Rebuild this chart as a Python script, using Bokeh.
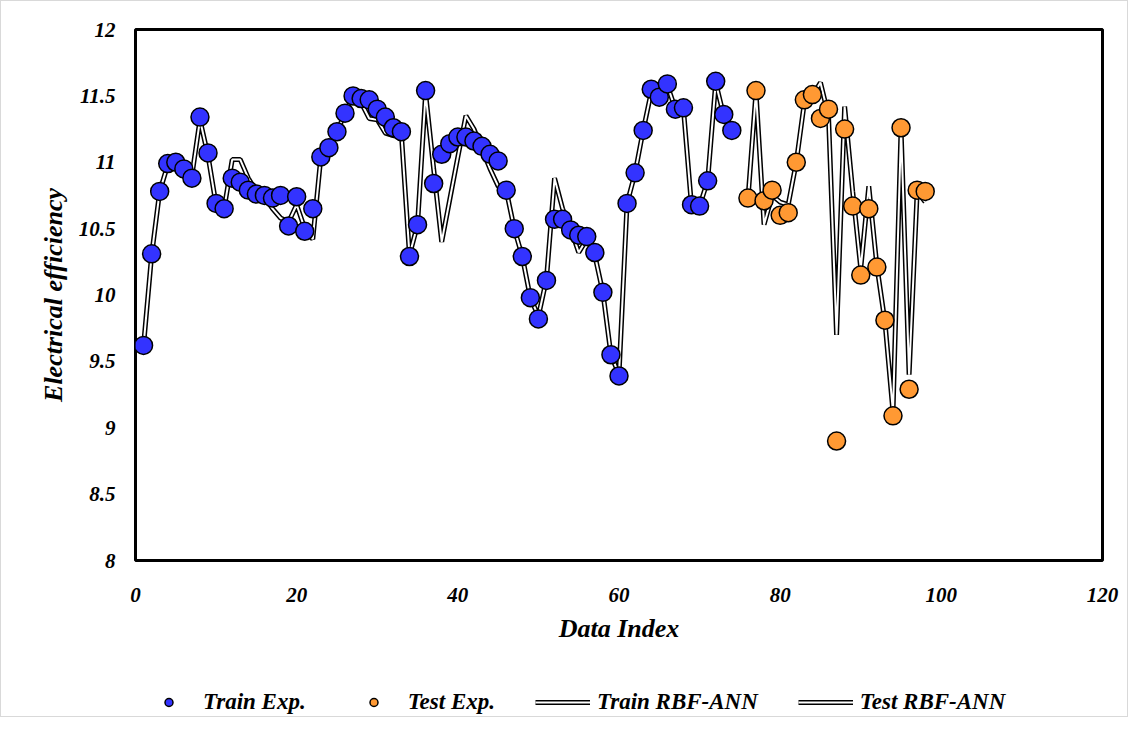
from bokeh.plotting import figure
from bokeh.models import Legend, LegendItem, FixedTicker, Range1d
from bokeh.layouts import column
from bokeh.embed import file_html
from bokeh.resources import INLINE

# ---- data ----
train_idx = list(range(1, 75))
train_exp = [9.62, 10.31, 10.78, 10.99, 11.00, 10.95, 10.88, 11.34, 11.07, 10.69,
             10.65, 10.88, 10.85, 10.79, 10.76, 10.75, 10.73, 10.75, 10.52, 10.74,
             10.48, 10.65, 11.04, 11.11, 11.23, 11.37, 11.50, 11.48, 11.47, 11.40,
             11.34, 11.26, 11.23, 10.29, 10.53, 11.54, 10.84, 11.06, 11.14, 11.19,
             11.19, 11.16, 11.12, 11.06, 11.01, 10.79, 10.50, 10.29, 9.98, 9.82,
             10.11, 10.57, 10.57, 10.49, 10.45, 10.44, 10.32, 10.02, 9.55, 9.39,
             10.69, 10.92, 11.24, 11.55, 11.49, 11.59, 11.40, 11.41, 10.68, 10.67,
             10.86, 11.61, 11.36, 11.24]
train_ann = [9.62, 10.30, 10.78, 10.98, 11.00, 10.95, 10.90, 11.32, 11.05, 10.68,
             10.65, 11.02, 11.02, 10.88, 10.78, 10.74, 10.65, 10.58, 10.55, 10.68,
             10.50, 10.42, 11.04, 11.11, 11.23, 11.37, 11.50, 11.45, 11.33, 11.32,
             11.22, 11.20, 11.21, 10.30, 10.53, 11.52, 10.95, 10.40, 10.72, 11.04,
             11.35, 11.25, 11.10, 10.95, 10.82, 10.79, 10.50, 10.29, 9.98, 9.84,
             10.12, 10.88, 10.65, 10.50, 10.32, 10.42, 10.30, 10.02, 9.55, 9.40,
             10.69, 10.92, 11.24, 11.53, 11.50, 11.58, 11.40, 11.40, 10.67, 10.67,
             10.86, 11.60, 11.35, 11.24]
test_idx = list(range(76, 99))
test_exp = [10.73, 11.54, 10.71, 10.79, 10.60, 10.62, 11.00, 11.47, 11.51, 11.33,
            11.40, 8.90, 11.25, 10.67, 10.15, 10.65, 10.21, 9.81, 9.09, 11.26,
            9.29, 10.79, 10.78]
test_ann = [10.72, 11.53, 10.53, 10.75, 10.70, 10.68, 11.00, 11.45, 11.50, 11.60,
            11.35, 9.70, 11.42, 10.78, 10.20, 10.82, 10.22, 9.80, 9.12, 11.25,
            9.40, 10.78, 10.70]
x_ticks = [0, 20, 40, 60, 80, 100, 120]
y_ticks = [8, 8.5, 9, 9.5, 10, 10.5, 11, 11.5, 12]
y_tick_labels = ["8", "8.5", "9", "9.5", "10", "10.5", "11", "11.5", "12"]
legend_labels = ["Train Exp.", "Test Exp.", "Train RBF-ANN", "Test RBF-ANN"]

FONT = "Liberation Serif"
BLUE = "#3333FF"
ORANGE = "#FF9933"

p = figure(width=1126, height=655, output_backend="svg", toolbar_location=None,
           x_range=Range1d(0, 120), y_range=Range1d(8, 12),
           min_border_left=134, min_border_right=25, min_border_top=28,
           min_border_bottom=96)
p.xgrid.visible = False
p.ygrid.visible = False
p.outline_line_color = "black"
p.outline_line_width = 3

for ax in (p.xaxis[0], p.yaxis[0]):
    ax.axis_line_color = None
    ax.major_tick_line_color = None
    ax.minor_tick_line_color = None
    ax.major_label_text_font = FONT
    ax.major_label_text_font_style = "bold italic"
    ax.major_label_text_font_size = "21px"
    ax.major_label_text_color = "black"
    ax.axis_label_text_font = FONT
    ax.axis_label_text_font_style = "bold italic"
    ax.axis_label_text_font_size = "26px"
    ax.axis_label_text_color = "black"

p.xaxis.ticker = FixedTicker(ticks=x_ticks)
p.yaxis.ticker = FixedTicker(ticks=y_ticks)
p.yaxis.major_label_overrides = {t: l for t, l in zip(y_ticks, y_tick_labels)}
p.xaxis.axis_label = "Data Index"
p.yaxis.axis_label = "Electrical efficiency"
p.xaxis.major_label_standoff = 21
p.xaxis.axis_label_standoff = 9
p.yaxis.major_label_standoff = 14
p.yaxis.axis_label_standoff = 8

# model lines (double line: black outer, white inner)
p.line(train_idx, train_ann, line_color="black", line_width=5)
p.line(train_idx, train_ann, line_color="white", line_width=2)
p.line(test_idx, test_ann, line_color="black", line_width=5)
p.line(test_idx, test_ann, line_color="white", line_width=2)

# experimental points
p.scatter(train_idx, train_exp, size=18, fill_color=BLUE,
          line_color="black", line_width=1.5)
p.scatter(test_idx, test_exp, size=18, fill_color=ORANGE,
          line_color="black", line_width=1.5)

# ---- legend strip below the chart (swatch glyphs sit outside its visible range) ----
lg = figure(width=1126, height=60, output_backend="svg", toolbar_location=None,
            x_range=Range1d(0, 1), y_range=Range1d(0, 1), min_border=0)
lg.axis.visible = False
lg.grid.visible = False
lg.outline_line_color = None
l1 = lg.scatter([-5], [-5], size=13, fill_color=BLUE, line_color="black", line_width=1.5)
l2 = lg.scatter([-5], [-5], size=13, fill_color=ORANGE, line_color="black", line_width=1.5)
l3o = lg.line([-6, -5], [-5, -5], line_color="black", line_width=5)
l3i = lg.line([-6, -5], [-5, -5], line_color="white", line_width=2)
l4o = lg.line([-6, -5], [-5, -5], line_color="black", line_width=5)
l4i = lg.line([-6, -5], [-5, -5], line_color="white", line_width=2)

legend = Legend(items=[
    LegendItem(label=legend_labels[0], renderers=[l1]),
    LegendItem(label=legend_labels[1], renderers=[l2]),
    LegendItem(label=legend_labels[2], renderers=[l3o, l3i]),
    LegendItem(label=legend_labels[3], renderers=[l4o, l4i]),
], orientation="horizontal", location=(6, 1))
legend.label_text_font = FONT
legend.label_text_font_style = "bold italic"
legend.label_text_font_size = "23px"
legend.label_text_color = "black"
legend.border_line_color = None
legend.background_fill_alpha = 0
legend.spacing = 40
legend.glyph_width = 55
legend.label_standoff = 7
legend.margin = 0
legend.padding = 4
lg.add_layout(legend, "center")

layout = column(p, lg, spacing=0)
layout.styles = {"border": "1px solid #d9d9d9"}

open("out.html", "w").write(file_html(layout, INLINE))
